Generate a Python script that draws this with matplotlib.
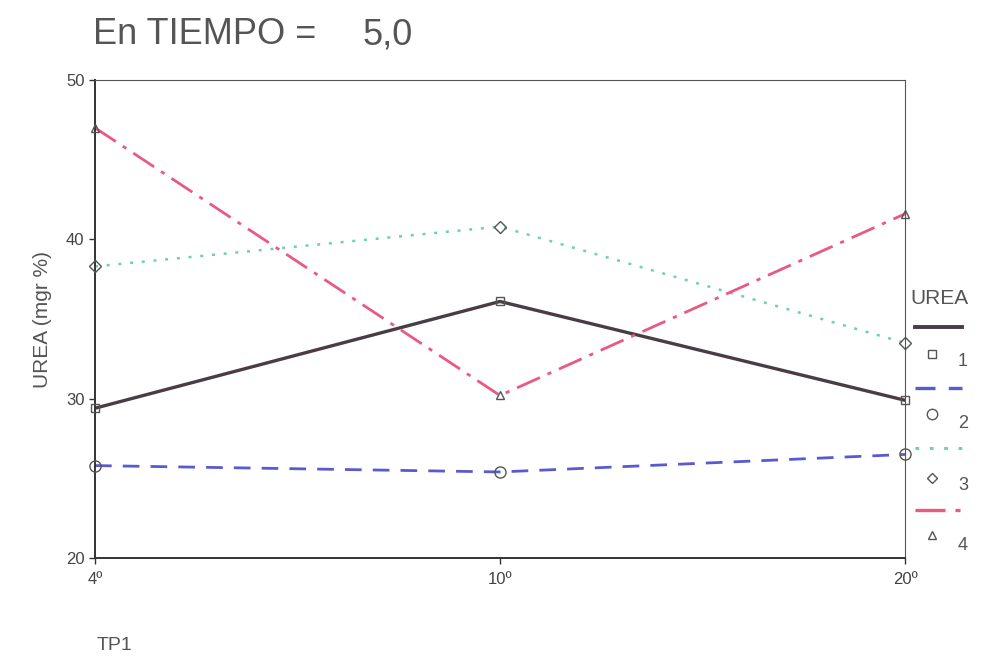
import matplotlib
matplotlib.use("Agg")
import matplotlib.pyplot as plt
from matplotlib.lines import Line2D

plt.rcParams['font.family'] = ['Liberation Sans', 'DejaVu Sans']

categories = ["4º", "10º", "20º"]
series_labels = ["1", "2", "3", "4"]
urea_1 = [29.4, 36.1, 29.9]
urea_2 = [25.8, 25.4, 26.5]
urea_3 = [38.3, 40.8, 33.5]
urea_4 = [47.0, 30.2, 41.6]
y_ticks = [20, 30, 40, 50]

series = [urea_1, urea_2, urea_3, urea_4]
colors = ["#4a3c44", "#5a5ad0", "#6fd0b0", "#e85a84"]
styles = ["-", (0, (6, 4)), (0, (1.2, 3.5)), (0, (9, 3, 1.5, 3))]
widths = [2.4, 2.0, 1.8, 2.0]
markers = ["s", "o", "D", "^"]
msizes = [6, 8, 6, 6]

fig = plt.figure(figsize=(9.84, 6.57), dpi=100)
ax = fig.add_axes([95/984, 1-558/657, (905-95)/984, (558-80)/657])

x = list(range(len(categories)))
for vals, c, ls, lw, m, ms in zip(series, colors, styles, widths, markers, msizes):
    ax.plot(x, vals, color=c, linestyle=ls, linewidth=lw, zorder=2)
    ax.plot(x, vals, linestyle='none', marker=m, markersize=ms, clip_on=False,
            markerfacecolor='none', markeredgecolor='#555555', markeredgewidth=1.0, zorder=3)

# categorical axis with equal spacing
ax.set_xlim(0, 2)
ax.set_ylim(20, 50)
ax.set_xticks(x)
ax.set_xticklabels(categories)
ax.set_yticks(y_ticks)
ax.tick_params(axis='both', direction='out', length=4, width=1, color='#333333',
               labelsize=12, labelcolor='#444444')
ax.tick_params(axis='x', pad=6)
for s in ax.spines.values():
    s.set_color('#555555')
    s.set_linewidth(0.8)
ax.spines['left'].set_linewidth(1.4)
ax.spines['bottom'].set_linewidth(1.4)
ax.spines['left'].set_color('#333333')
ax.spines['bottom'].set_color('#333333')

ax.set_ylabel("UREA (mgr %)", fontsize=15, color='#555555', labelpad=10)
fig.text(93/984, 1-35/657, "En TIEMPO =", fontsize=26, color='#555555',
         va='center', ha='left')
fig.text(363/984, 1-35/657, "5,0", fontsize=26, color='#555555',
         va='center', ha='left')
fig.text(97/984, 1-645/657, "TP1", fontsize=14, color='#555555', va='center', ha='left')

# legend, drawn manually to match the two-row-per-entry layout
fig.text(910/984, 1-298/657, "UREA", fontsize=15, color='#555555', va='center', ha='left')
line_y = [327, 388, 448, 510]
mark_y = [354, 414, 478, 535]
lab_y = [362, 424, 486, 546]
for i in range(4):
    yl = 1 - line_y[i]/657
    fig.add_artist(Line2D([915/984, 962/984], [yl, yl], transform=fig.transFigure,
                          color=colors[i], linestyle=styles[i], linewidth=widths[i] + 0.4))
    fig.add_artist(Line2D([932/984], [1 - mark_y[i]/657], transform=fig.transFigure,
                          marker=markers[i], markersize=msizes[i] - 0.5, linestyle='none',
                          markerfacecolor='white', markeredgecolor='#555555', markeredgewidth=1.0))
    fig.text(958/984, 1 - lab_y[i]/657, series_labels[i], fontsize=13, color='#555555',
             va='center', ha='left')

fig.savefig("out.png", dpi=100, facecolor='white')
